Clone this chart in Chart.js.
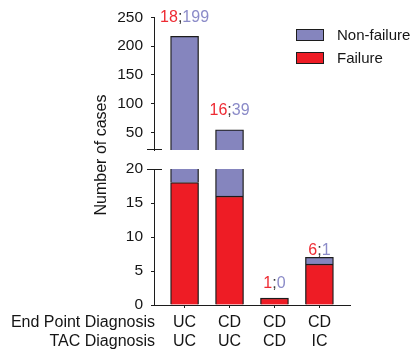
<!DOCTYPE html>
<html>
<head>
<meta charset="utf-8">
<script src="https://cdn.jsdelivr.net/npm/chart.js@4.4.1/dist/chart.umd.min.js"></script>
<style>
  html, body { margin: 0; padding: 0; background: #fff; }
  #wrap { position: relative; width: 412px; height: 356px; }
  #wrap canvas { position: absolute; left: 0; top: 0; }
</style>
</head>
<body>
<div id="wrap">
  <canvas id="lower" width="412" height="356"></canvas>
  <canvas id="upper" width="412" height="356"></canvas>
</div>
<script>
// Cases per diagnosis pairing
const endPointDiagnosis = ['UC', 'CD', 'CD', 'CD'];
const tacDiagnosis = ['UC', 'UC', 'CD', 'IC'];
const failure = [18, 16, 1, 6];
const nonFailure = [199, 39, 0, 1];
const upperTicks = [50, 100, 150, 200, 250];
const lowerTicks = [0, 5, 10, 15, 20];
const rowTitles = ['End Point Diagnosis', 'TAC Diagnosis'];

// Gap (px) between each bar top and its count label
const labelLift = [19, 19, 15, 7];

const FONT = '"Liberation Sans", Arial, sans-serif';
const INK = '#151515';
const EDGE = '#1c1c1c';
const RED = '#EE1C25';
const BLUE = '#8585BE';
const RED_TXT = '#EE2B33';
const BLUE_TXT = '#8B8BC8';
const H = 356; // canvas height

const totals = failure.map((f, i) => f + nonFailure[i]);

// short horizontal stroke across the y axis where it is broken
function breakMark(atTop) {
  return {
    id: 'breakMark',
    afterDraw(chart) {
      const { ctx, chartArea } = chart;
      const y = atTop ? chartArea.top + 0.5 : chartArea.bottom - 0.5;
      ctx.save();
      ctx.strokeStyle = EDGE;
      ctx.lineWidth = 1;
      ctx.beginPath();
      ctx.moveTo(chartArea.left - 7, y);
      ctx.lineTo(chartArea.left + 8, y);
      ctx.stroke();
      ctx.restore();
    }
  };
}

// "failure;non-failure" counts above each bar whose top falls in this panel
function countLabels(lo, hi) {
  return {
    id: 'countLabels',
    afterDatasetsDraw(chart) {
      const { ctx, scales } = chart;
      ctx.save();
      ctx.font = '16px ' + FONT;
      ctx.textBaseline = 'middle';
      ctx.textAlign = 'left';
      totals.forEach((t, i) => {
        if (t <= lo || t > hi) return;
        const parts = [
          [String(failure[i]), RED_TXT],
          [';', '#3a3a3a'],
          [String(nonFailure[i]), BLUE_TXT]
        ];
        const width = parts.reduce((s, p) => s + ctx.measureText(p[0]).width, 0);
        let x = scales.x.getPixelForValue(i) - width / 2;
        const y = scales.y.getPixelForValue(t) - labelLift[i];
        parts.forEach(([txt, col]) => {
          ctx.fillStyle = col;
          ctx.fillText(txt, x, y);
          x += ctx.measureText(txt).width;
        });
      });
      ctx.restore();
    }
  };
}

const sideLegend = {
  id: 'sideLegend',
  afterDraw(chart) {
    const ctx = chart.ctx;
    const items = chart.data.datasets.slice().reverse();
    ctx.save();
    ctx.font = '15px ' + FONT;
    ctx.textBaseline = 'middle';
    items.forEach((ds, k) => {
      const y = 29 + k * 23;
      ctx.fillStyle = ds.backgroundColor;
      ctx.fillRect(296, y, 28, 12);
      ctx.strokeStyle = EDGE;
      ctx.lineWidth = 1;
      ctx.strokeRect(296.5, y + 0.5, 27, 11);
      ctx.fillStyle = INK;
      ctx.fillText(ds.label, 337, y + 6.5);
    });
    ctx.restore();
  }
};

const axisTitle = {
  id: 'axisTitle',
  afterDraw(chart) {
    const ctx = chart.ctx;
    ctx.save();
    ctx.font = '16px ' + FONT;
    ctx.fillStyle = INK;
    ctx.textAlign = 'center';
    ctx.textBaseline = 'middle';
    ctx.translate(102, 155);
    ctx.rotate(-Math.PI / 2);
    ctx.fillText('Number of cases', 0, 0);
    ctx.restore();
  }
};

const rowTitleLabels = {
  id: 'rowTitleLabels',
  afterDraw(chart) {
    const ctx = chart.ctx;
    ctx.save();
    ctx.font = '16px ' + FONT;
    ctx.fillStyle = INK;
    ctx.textAlign = 'right';
    ctx.textBaseline = 'middle';
    rowTitles.forEach((t, k) => ctx.fillText(t, 155, 323 + k * 19));
    ctx.restore();
  }
};

function buildChart(id, panel) {
  const ds = (label, values, color) => ({
    label,
    data: values.map((v, i) => ({ x: i, y: v })),
    backgroundColor: color,
    borderColor: EDGE,
    borderWidth: 1.3,
    borderSkipped: 'start',
    barThickness: 28,
    clip: 0
  });
  return new Chart(document.getElementById(id), {
    type: 'bar',
    data: {
      datasets: [ds('Failure', failure, RED), ds('Non-failure', nonFailure, BLUE)]
    },
    options: {
      responsive: false,
      animation: false,
      devicePixelRatio: 1,
      layout: {
        padding: { left: 0, right: 62, top: panel.top, bottom: panel.showX ? 0 : H - panel.bottom }
      },
      plugins: { legend: { display: false }, tooltip: { enabled: false } },
      scales: {
        x: {
          type: 'linear',
          stacked: true,
          offset: false,
          min: -0.68,
          max: 3.68,
          display: panel.showX,
          afterBuildTicks: s => { s.ticks = endPointDiagnosis.map((_, i) => ({ value: i })); },
          afterFit: s => { s.height = panel.showX ? H - panel.bottom : 0; },
          grid: { offset: false, drawOnChartArea: false, drawTicks: true, tickLength: 3, color: EDGE },
          border: { color: EDGE, width: 1 },
          ticks: {
            color: INK,
            autoSkip: false,
            maxRotation: 0,
            padding: 5,
            font: { family: FONT, size: 16, lineHeight: '19px' },
            callback: v => [endPointDiagnosis[v], tacDiagnosis[v]]
          }
        },
        y: {
          stacked: true,
          min: panel.min,
          max: panel.max,
          afterBuildTicks: s => { s.ticks = panel.ticks.map(v => ({ value: v })); },
          afterFit: s => { s.width = 154; },
          grid: { drawOnChartArea: false, drawTicks: true, tickLength: 3, color: EDGE },
          border: { color: EDGE, width: 1 },
          ticks: { color: INK, padding: 8, font: { family: FONT, size: 15.5 } }
        }
      }
    },
    plugins: panel.plugins
  });
}

// lower panel: 0–20
buildChart('lower', {
  min: 0, max: 20, ticks: lowerTicks, top: 169, bottom: 305, showX: true,
  plugins: [breakMark(true), countLabels(-1, 20), rowTitleLabels]
});

// upper panel: 20–250
buildChart('upper', {
  min: 20, max: 250, ticks: upperTicks, top: 16, bottom: 150, showX: false,
  plugins: [breakMark(false), countLabels(20, Infinity), sideLegend, axisTitle]
});
</script>
</body>
</html>
